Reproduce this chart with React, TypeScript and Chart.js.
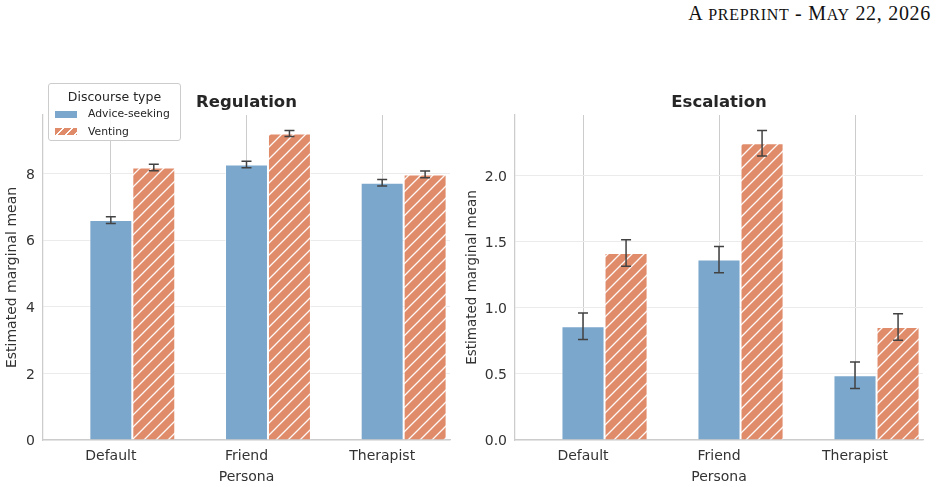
import React, { useEffect, useRef } from "react";
import { Chart, registerables } from "chart.js";

Chart.register(...registerables);

// ---------- data ----------
const personas = ["Default", "Friend", "Therapist"];
const seriesNames = ["Advice-seeking", "Venting"];

const regulationAdvice = [6.6, 8.27, 7.72];
const regulationAdviceErr = [0.1, 0.1, 0.1];
const regulationVenting = [8.18, 9.2, 7.97];
const regulationVentingErr = [0.1, 0.09, 0.1];

const escalationAdvice = [0.86, 1.365, 0.49];
const escalationAdviceErr = [0.1, 0.1, 0.1];
const escalationVenting = [1.415, 2.245, 0.855];
const escalationVentingErr = [0.1, 0.097, 0.1];

const panelTitles = ["Regulation", "Escalation"];
const xAxisTitle = "Persona";
const yAxisTitle = "Estimated marginal mean";
const legendTitle = "Discourse type";

// ---------- style ----------
const FONT = '"DejaVu Sans", sans-serif';
const TEXT = "#333333";
const BLUE = "#7ba7cc";
const ORANGE = "#e08c6b";

function makeHatch(color: string) {
  const size = 12;
  const c = document.createElement("canvas");
  c.width = size;
  c.height = size;
  const g = c.getContext("2d")!;
  g.fillStyle = color;
  g.fillRect(0, 0, size, size);
  g.strokeStyle = "rgba(255,255,255,0.95)";
  g.lineWidth = 1.3;
  g.beginPath();
  g.moveTo(0, size);
  g.lineTo(size, 0);
  g.moveTo(-size / 2, size / 2);
  g.lineTo(size / 2, -size / 2);
  g.moveTo(size / 2, size * 1.5);
  g.lineTo(size * 1.5, size / 2);
  g.stroke();
  return g.createPattern(c, "repeat");
}

function errorBarPlugin(errs: (number[] | null)[]) {
  return {
    id: "errorBars",
    afterDatasetsDraw(chart: any) {
      const ctx = chart.ctx;
      const y = chart.scales.y;
      errs.forEach((err, di) => {
        if (!err) return;
        const meta = chart.getDatasetMeta(di);
        const data = chart.data.datasets[di].data;
        meta.data.forEach((bar: any, i: number) => {
          const v = data[i];
          if (v == null) return;
          const x = bar.x;
          const yt = y.getPixelForValue(v + err[i]);
          const yb = y.getPixelForValue(v - err[i]);
          ctx.save();
          ctx.strokeStyle = "#424242";
          ctx.lineWidth = 1.5;
          ctx.beginPath();
          ctx.moveTo(x, yt);
          ctx.lineTo(x, yb);
          ctx.moveTo(x - 5, yt);
          ctx.lineTo(x + 5, yt);
          ctx.moveTo(x - 5, yb);
          ctx.lineTo(x + 5, yb);
          ctx.stroke();
          ctx.restore();
        });
      });
    },
  };
}

function buildConfig(
  title: string,
  advice: number[],
  adviceErr: number[],
  venting: number[],
  ventingErr: number[],
  step: number,
  decimals: number,
  geom: { yWidth: number; padRight: number; yTitlePad: number; yTitleSize: number }
): any {
  const top = Math.max(
    ...advice.map((v, i) => v + adviceErr[i]),
    ...venting.map((v, i) => v + ventingErr[i])
  );
  const yMax = top * 1.05;
  return {
    type: "bar",
    data: {
      labels: personas,
      datasets: [
        { label: "", data: personas.map(() => null), backgroundColor: "rgba(0,0,0,0)" },
        {
          label: seriesNames[0],
          data: advice,
          backgroundColor: BLUE,
          borderColor: "rgba(255,255,255,0.6)",
          borderWidth: 1,
        },
        {
          label: seriesNames[1],
          data: venting,
          backgroundColor: makeHatch(ORANGE),
          borderColor: "rgba(255,255,255,0.6)",
          borderWidth: 1,
        },
      ],
    },
    options: {
      responsive: false,
      animation: false,
      categoryPercentage: 0.95,
      barPercentage: 1,
      layout: { padding: { left: 0, right: geom.padRight, top: 0, bottom: 0 } },
      plugins: {
        legend: { display: false },
        tooltip: { enabled: false },
        title: {
          display: true,
          text: title,
          fullSize: false,
          color: "#262626",
          font: { family: FONT, size: 16.5, weight: "bold" },
          padding: { top: 13.3, bottom: 1.9 },
        },
      },
      scales: {
        x: {
          offset: true,
          grid: { offset: false, color: "#cccccc", lineWidth: 1, drawTicks: false },
          border: { display: true, color: "#cccccc", width: 1.25 },
          ticks: { color: TEXT, font: { family: FONT, size: 14 }, padding: 7.6 },
          title: {
            display: true,
            text: xAxisTitle,
            color: TEXT,
            font: { family: FONT, size: 14 },
            padding: { top: 0, bottom: 1.6 },
          },
          afterFit: (s: any) => {
            s.height = 47;
          },
        },
        y: {
          min: 0,
          max: yMax,
          grid: { color: "#ebebeb", lineWidth: 1, drawTicks: false },
          border: { display: true, color: "#cccccc", width: 1.25 },
          ticks: {
            stepSize: step,
            includeBounds: false,
            padding: 8,
            labelOffset: 1.5,
            color: TEXT,
            font: { family: FONT, size: 14 },
            callback: (v: any) => Number(v).toFixed(decimals),
          },
          title: {
            display: true,
            text: yAxisTitle,
            color: TEXT,
            font: { family: FONT, size: geom.yTitleSize },
            padding: { top: geom.yTitlePad, bottom: 0 },
          },
          afterFit: (s: any) => {
            s.width = geom.yWidth;
          },
        },
      },
    },
    plugins: [errorBarPlugin([null, adviceErr, ventingErr])],
  };
}

export default function App() {
  const leftRef = useRef<HTMLCanvasElement>(null);
  const rightRef = useRef<HTMLCanvasElement>(null);

  useEffect(() => {
    const c1 = new Chart(
      leftRef.current!,
      buildConfig(panelTitles[0], regulationAdvice, regulationAdviceErr, regulationVenting, regulationVentingErr, 2, 0, {
        yWidth: 43,
        padRight: 8,
        yTitlePad: 4.4,
        yTitleSize: 14,
      })
    );
    const c2 = new Chart(
      rightRef.current!,
      buildConfig(panelTitles[1], escalationAdvice, escalationAdviceErr, escalationVenting, escalationVentingErr, 0.5, 1, {
        yWidth: 57,
        padRight: 15,
        yTitlePad: 6.6,
        yTitleSize: 13.5,
      })
    );
    return () => {
      c1.destroy();
      c2.destroy();
    };
  }, []);

  const swatchBase: React.CSSProperties = { position: "absolute", left: 6, width: 22, height: 7.5 };
  const itemText: React.CSSProperties = {
    position: "absolute",
    left: 39,
    fontSize: 10.8,
    lineHeight: "14px",
    color: "#262626",
    whiteSpace: "nowrap",
  };

  return (
    <div
      style={{
        position: "absolute",
        left: 0,
        top: 0,
        width: 938,
        height: 487,
        background: "#ffffff",
        overflow: "hidden",
        fontFamily: FONT,
      }}
    >
      <div
        style={{
          position: "absolute",
          right: 7,
          top: 1,
          fontFamily: '"Liberation Serif", serif',
          fontSize: 20,
          lineHeight: "24px",
          letterSpacing: "0.7px",
          color: "#111111",
          whiteSpace: "nowrap",
        }}
      >
        A<span style={{ fontSize: 16 }}> PREPRINT</span> - M<span style={{ fontSize: 16 }}>AY</span> 22, 2026
      </div>

      <div style={{ position: "absolute", left: 0, top: 80, width: 458, height: 407 }}>
        <canvas ref={leftRef} width={458} height={407} style={{ display: "block", width: 458, height: 407 }} />
      </div>
      <div style={{ position: "absolute", left: 458, top: 80, width: 480, height: 407 }}>
        <canvas ref={rightRef} width={480} height={407} style={{ display: "block", width: 480, height: 407 }} />
      </div>

      <div
        style={{
          position: "absolute",
          left: 48,
          top: 83,
          width: 131,
          height: 56,
          border: "1px solid #cccccc",
          borderRadius: 3,
          background: "rgba(255,255,255,0.85)",
        }}
      >
        <div
          style={{
            position: "absolute",
            left: 0,
            right: 0,
            top: 4.7,
            textAlign: "center",
            fontSize: 12.5,
            lineHeight: "16px",
            color: "#262626",
            whiteSpace: "nowrap",
          }}
        >
          {legendTitle}
        </div>
        <div style={{ ...swatchBase, top: 26.5, background: BLUE }} />
        <div style={{ ...itemText, top: 23.3 }}>{seriesNames[0]}</div>
        <div
          style={{
            ...swatchBase,
            top: 43.9,
            background: `repeating-linear-gradient(135deg, ${ORANGE} 0px, ${ORANGE} 5px, #ffffff 5px, #ffffff 6.4px)`,
          }}
        />
        <div style={{ ...itemText, top: 40.7 }}>{seriesNames[1]}</div>
      </div>
    </div>
  );
}
